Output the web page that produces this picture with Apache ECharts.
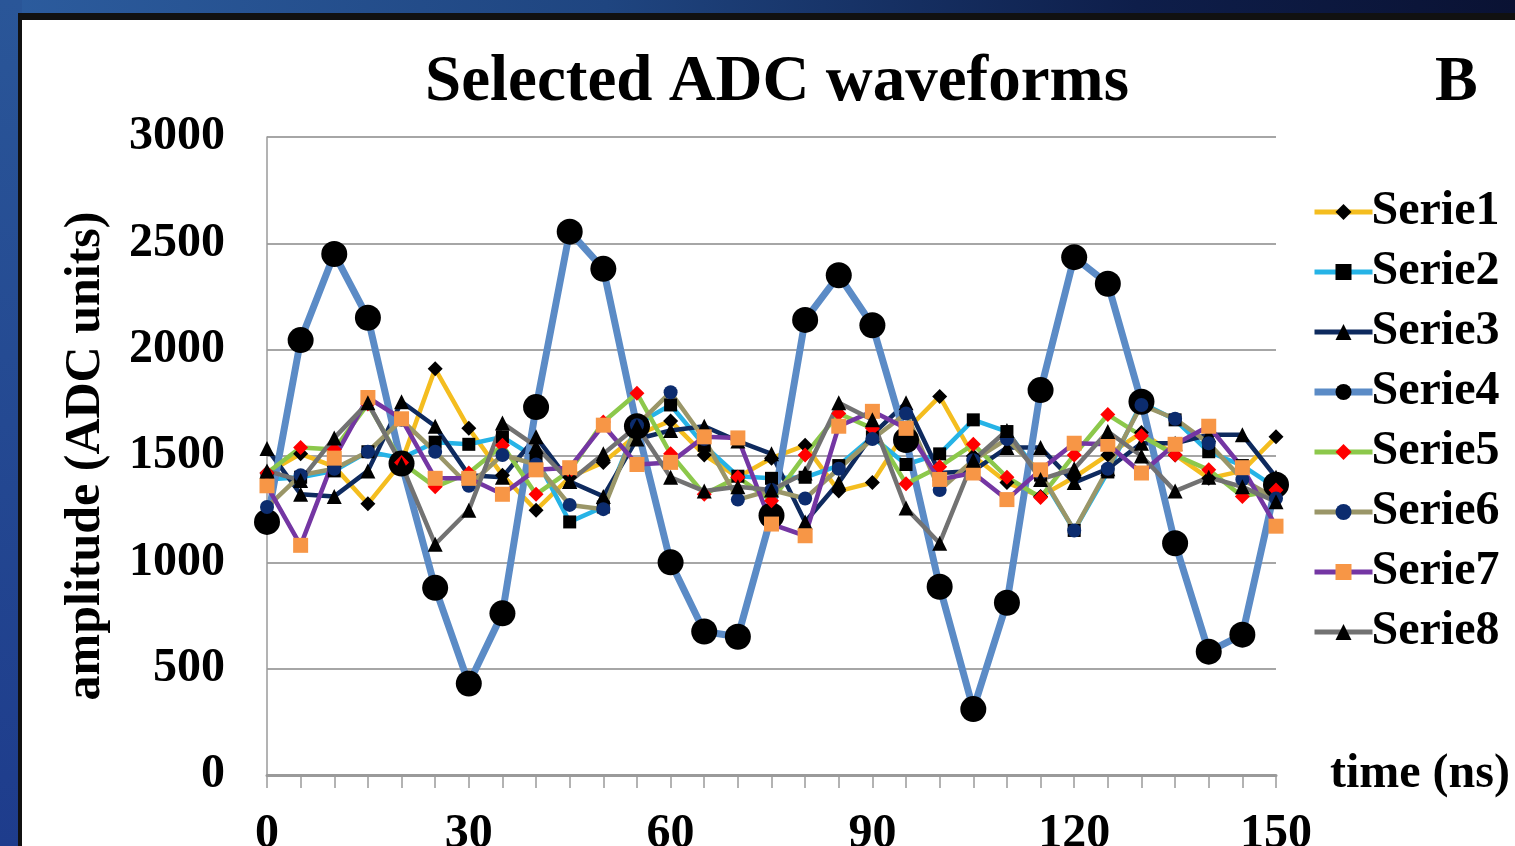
<!DOCTYPE html>
<html>
<head>
<meta charset="utf-8">
<script src="https://cdn.jsdelivr.net/npm/echarts@6/dist/echarts.min.js"></script>
<style>
  html, body { margin: 0; padding: 0; width: 1515px; height: 846px; overflow: hidden; }
  body { background: linear-gradient(to right, #2c5c9e 0%, #1f4580 40%, #0e1e4a 75%, #0a1233 100%); position: relative; }
  #leftband { position: absolute; left: 0; top: 0; width: 22px; height: 846px; background: linear-gradient(to bottom, #2a5698, #1e3c8c); }
  #panel { position: absolute; left: 18px; top: 13px; right: 0; bottom: 0; background: #fff; border-top: 7px solid #111; border-left: 4px solid #111; }
  #chart { position: absolute; left: 0; top: 0; width: 1515px; height: 846px; }
</style>
</head>
<body>
<div id="leftband"></div>
<div id="panel"></div>
<div id="chart"></div>
<script>
// time in ns
var time = [0, 5, 10, 15, 20, 25, 30, 35, 40, 45, 50, 55, 60, 65, 70, 75, 80, 85, 90, 95, 100, 105, 110, 115, 120, 125, 130, 135, 140, 145, 150]

var serie1 = [1420, 1510, 1450, 1275, 1470, 1910, 1630, 1410, 1245, 1400, 1470, 1600, 1665, 1505, 1400, 1490, 1550, 1335, 1375, 1620, 1780, 1500, 1375, 1310, 1400, 1505, 1610, 1505, 1395, 1430, 1590]
var serie2 = [1390, 1400, 1430, 1520, 1490, 1565, 1555, 1590, 1490, 1190, 1260, 1650, 1740, 1550, 1405, 1395, 1400, 1455, 1590, 1460, 1510, 1670, 1615, 1410, 1150, 1425, 1750, 1670, 1520, 1455, 1350]
var serie3 = [1535, 1320, 1310, 1430, 1755, 1640, 1410, 1400, 1590, 1380, 1310, 1580, 1620, 1640, 1570, 1510, 1190, 1375, 1600, 1750, 1420, 1430, 1540, 1540, 1375, 1440, 1560, 1560, 1600, 1600, 1400]
var serie4 = [1190, 2045, 2450, 2150, 1465, 880, 430, 760, 1730, 2555, 2380, 1640, 1000, 675, 650, 1220, 2140, 2350, 2115, 1575, 885, 310, 810, 1810, 2435, 2310, 1755, 1090, 580, 660, 1365]
var serie5 = [1420, 1540, 1530, 1745, 1470, 1355, 1420, 1550, 1320, 1430, 1660, 1795, 1510, 1320, 1400, 1290, 1505, 1700, 1630, 1370, 1450, 1555, 1400, 1305, 1505, 1695, 1595, 1505, 1435, 1310, 1340]
var serie6 = [1260, 1410, 1440, 1520, 1670, 1520, 1360, 1505, 1460, 1270, 1250, 1645, 1800, 1580, 1295, 1340, 1300, 1440, 1580, 1700, 1340, 1480, 1580, 1420, 1150, 1440, 1740, 1675, 1560, 1390, 1300]
var serie7 = [1360, 1080, 1490, 1775, 1675, 1395, 1395, 1320, 1435, 1445, 1645, 1460, 1470, 1590, 1585, 1180, 1125, 1640, 1710, 1630, 1390, 1420, 1295, 1435, 1560, 1555, 1420, 1555, 1640, 1445, 1170]
var serie8 = [1430, 1385, 1585, 1750, 1460, 1085, 1245, 1655, 1545, 1380, 1510, 1640, 1400, 1335, 1355, 1340, 1420, 1750, 1670, 1255, 1090, 1480, 1620, 1390, 1440, 1615, 1500, 1335, 1400, 1355, 1285]

var names = ['Serie1', 'Serie2', 'Serie3', 'Serie4', 'Serie5', 'Serie6', 'Serie7', 'Serie8']
var values = [serie1, serie2, serie3, serie4, serie5, serie6, serie7, serie8]
var lineColors = ['#f4bd1f', '#26b3e6', '#0e2a5e', '#5b8bc6', '#8cc84b', '#9a9668', '#7436a3', '#727272']
var markColors = ['#000', '#000', '#000', '#000', '#ff0000', '#0c2c6e', '#f79646', '#000']
var symbols = ['diamond', 'rect', 'triangle', 'circle', 'diamond', 'circle', 'rect', 'triangle']
var symbolSizes = [15, 13, 15, 26, 15, 14, 15, 15]
var lineWidths = [4.5, 4.5, 4.5, 7, 4.5, 4.5, 4.5, 4.5]

var font = 'Liberation Serif'

var series = names.map(function (n, i) {
  return {
    name: n,
    type: 'line',
    data: time.map(function (t, k) { return [t, values[i][k]] }),
    symbol: symbols[i],
    symbolSize: symbolSizes[i],
    showAllSymbol: true,
    lineStyle: { color: lineColors[i], width: lineWidths[i] },
    itemStyle: { color: markColors[i] },
    emphasis: { disabled: true },
    animation: false
  }
})

var legendData = names.map(function (n, i) {
  return { name: n, lineStyle: { width: i === 3 ? 7 : 5 } }
})

var myChart = echarts.init(document.getElementById('chart'))
myChart.setOption({
  backgroundColor: 'transparent',
  title: [{
    text: 'Selected ADC waveforms',
    left: 420,
    top: 46,
    textStyle: { fontFamily: font, fontWeight: 'bold', fontSize: 65, color: '#000' }
  }, {
    text: 'B',
    left: 1430,
    top: 46,
    textStyle: { fontFamily: font, fontWeight: 'bold', fontSize: 64, color: '#000' }
  }],
  grid: {
    left: 267,
    right: 239,
    top: 137,
    bottom: 71,
    outerBoundsMode: 'none',
    containLabel: false
  },
  legend: {
    orient: 'vertical',
    left: 1306,
    top: 182,
    itemWidth: 58,
    itemHeight: 20,
    itemGap: 10,
    textStyle: { fontFamily: font, fontWeight: 'bold', fontSize: 48, color: '#000', lineHeight: 50, padding: [0, 0, 0, -6] },
    data: legendData
  },
  xAxis: {
    type: 'value',
    min: 0,
    max: 150,
    interval: 30,
    name: 'time (ns)',
    nameLocation: 'end',
    nameGap: 54,
    nameTextStyle: { fontFamily: font, fontWeight: 'bold', fontSize: 48, color: '#000' },
    axisLine: { lineStyle: { color: '#9a9a9a', width: 3 } },
    axisTick: { show: true, length: 13, lineStyle: { color: '#9a9a9a', width: 1.5 } },
    minorTick: { show: true, splitNumber: 6, length: 13, lineStyle: { color: '#9a9a9a', width: 1.5 } },
    splitLine: { show: false },
    axisLabel: { margin: 36, fontFamily: font, fontWeight: 'bold', fontSize: 48, color: '#000' }
  },
  yAxis: {
    type: 'value',
    min: 0,
    max: 3000,
    interval: 500,
    name: 'amplitude (ADC units)',
    nameLocation: 'middle',
    nameGap: 156,
    nameRotate: 90,
    nameTextStyle: { fontFamily: font, fontWeight: 'bold', fontSize: 50, color: '#000' },
    axisLine: { show: true, lineStyle: { color: '#9a9a9a', width: 1.5 } },
    axisTick: { show: false },
    splitLine: { lineStyle: { color: '#a6a6a6', width: 2 } },
    axisLabel: {
      margin: 42, fontFamily: font, fontWeight: 'bold', fontSize: 48, color: '#000',
      formatter: function (v) { return String(v) }
    }
  },
  series: series
})
</script>
</body>
</html>
